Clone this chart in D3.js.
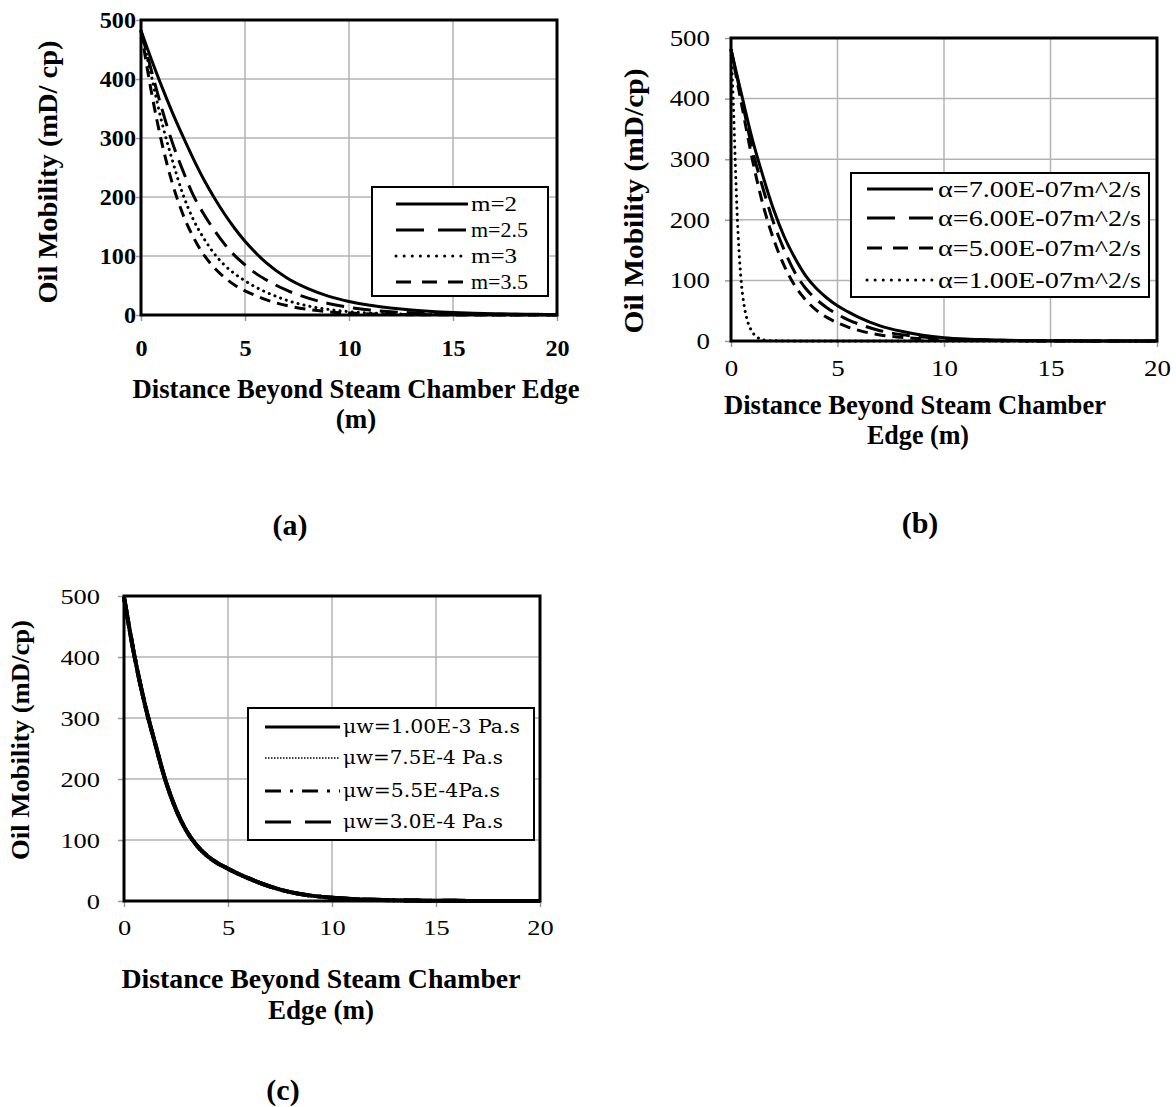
<!DOCTYPE html>
<html><head><meta charset="utf-8">
<script src="https://cdn.jsdelivr.net/npm/d3@7"></script>
<style>body{margin:0;background:#fff} svg{display:block}</style>
</head><body>
<svg id="chart" width="1176" height="1107"></svg>
<script>
// ---------- data ----------
const distance = [0,0.5,1,1.5,2,2.5,3,3.5,4,4.5,5,5.5,6,7,8,9,10,11,12,13,14,15,16,17,18,19,20];
const distanceFine = [0,0.1,0.2,0.3,0.4,0.5,0.6,0.7,0.8,1,1.2,1.4,1.7,2,3,5,10,20];

// panel (a): exponent m
const mobM2  = [482,433,387,344,304,266,231,200,172,147,125,106,89, 63,45,32,23,16.5,12,8.5,6,4.3,3,2.2,1.6,1.1,0.8];
const mobM25 = [482,414,350,293,246,204,172,145,121,101,85,71,60, 42,29,19.5,13,8.5,5.6,3.7,2.5,1.7,1.1,0.7,0.5,0.35,0.25];
const mobM3  = [482,405,327,263,206,163,131,105,85,70,58,47.5,39, 25,15.5,9.5,5.7,3.4,2,1.2,0.7,0.4,0.25,0.15,0.1,0.05,0];
const mobM35 = [482,378,292,224,172,133,103,81,64,51,41,33,26, 16,9.5,5.5,3.2,1.9,1.1,0.6,0.35,0.2,0.1,0.05,0,0,0];
const labelsA = ["m=2","m=2.5","m=3","m=3.5"];

// panel (b): thermal diffusivity alpha
const mobA7 = [481,406,333,272,217,172,137,108,87,71,58,48,39, 25,16,9.5,5.5,3.3,2,1.2,0.7,0.4,0.25,0.15,0.1,0.05,0];
const mobA6 = [481,400,316,252,195,150,113,87,69,55,44,35,28, 17,10.5,6.5,4,2.4,1.5,0.9,0.5,0.3,0.2,0.1,0.1,0,0];
const mobA5 = [481,390,300,225,168,124,91,68,51,39,30,23,17.5, 10,6,3.5,2,1.2,0.7,0.4,0.2,0.1,0,0,0,0,0];
const mobA1 = [481,400,295,200,135,90,62,43,30,15,7,3,1,0.4,0,0,0,0];
const labelsB = ["α=7.00E-07m^2/s","α=6.00E-07m^2/s","α=5.00E-07m^2/s","α=1.00E-07m^2/s"];

// panel (c): water viscosity (the four curves coincide)
const mobMu100 = [498,402,323,258,197,150,115,91,74,62,53,44.5,37, 24,14.5,8.8,5.3,3.2,1.9,1.1,0.7,0.4,0.25,0.15,0.1,0.05,0];
const mobMu75  = [498,402,323,258,197,150,115,91,74,62,53,44.5,37, 24,14.5,8.8,5.3,3.2,1.9,1.1,0.7,0.4,0.25,0.15,0.1,0.05,0];
const mobMu55  = [498,402,323,258,197,150,115,91,74,62,53,44.5,37, 24,14.5,8.8,5.3,3.2,1.9,1.1,0.7,0.4,0.25,0.15,0.1,0.05,0];
const mobMu30  = [498,402,323,258,197,150,115,91,74,62,53,44.5,37, 24,14.5,8.8,5.3,3.2,1.9,1.1,0.7,0.4,0.25,0.15,0.1,0.05,0];
const labelsC = ["μw=1.00E-3 Pa.s","μw=7.5E-4 Pa.s","μw=5.5E-4Pa.s","μw=3.0E-4 Pa.s"];

const xTicks = [0,5,10,15,20];
const yTicks = [0,100,200,300,400,500];
const xTitleLine1 = "Distance Beyond Steam Chamber";
const captions = ["(a)","(b)","(c)"];

// ---------- drawing ----------
const svg = d3.select('#chart');
svg.append('rect').attr('width',1176).attr('height',1107).attr('fill','#fff');
const SERIF = "'Liberation Serif','Times New Roman',serif";

const styles = {
  solid:   {dash:null, w:3},
  long:    {dash:"18,9", w:3, legDash:"28,14"},
  medium:  {dash:"11,7", w:3, legDash:"15,11"},
  dot:     {dash:"0.1,6", w:3, cap:"round", legDash:"0.1,8"},
  thinDot: {dash:"1.5,1.5", w:1.5},
  dashDot: {dash:"16,9,3,9", w:3, legDash:"16,9,3,9"},
  long2:   {dash:"26,14", w:3, legDash:"26,14"}
};

function txt(g, t, o) {
  const e = g.append('text').text(t)
    .attr('x', o.x).attr('y', o.y)
    .attr('font-family', o.family || SERIF)
    .attr('font-size', o.size)
    .attr('font-weight', o.weight || 'normal')
    .attr('text-anchor', o.anchor || 'start')
    .attr('fill', '#000');
  if (o.len) e.attr('textLength', o.len).attr('lengthAdjust', 'spacingAndGlyphs');
  if (o.rotate) e.attr('transform', `rotate(-90,${o.x},${o.y})`);
  return e;
}

function panel(c) {
  const g = svg.append('g');
  const x = d3.scaleLinear().domain([0,20]).range([c.left, c.right]);
  const y = d3.scaleLinear().domain([0,500]).range([c.bottom, c.top]);

  // gridlines
  g.append('g').selectAll('line').data(xTicks.slice(1,-1)).join('line')
    .attr('x1', d=>x(d)).attr('x2', d=>x(d)).attr('y1', c.top).attr('y2', c.bottom)
    .attr('stroke', '#b3b3b3').attr('stroke-width', 1.5);
  g.append('g').selectAll('line').data(yTicks.slice(1,-1)).join('line')
    .attr('y1', d=>y(d)).attr('y2', d=>y(d)).attr('x1', c.left).attr('x2', c.right)
    .attr('stroke', '#b3b3b3').attr('stroke-width', 1.5);

  // axes
  const ax = g.append('g').attr('transform', `translate(0,${c.bottom})`)
    .call(d3.axisBottom(x).tickValues(xTicks).tickSize(6).tickPadding(c.xPad));
  const ay = g.append('g').attr('transform', `translate(${c.left},0)`)
    .call(d3.axisLeft(y).tickValues(yTicks).tickSize(c.yTick || 6).tickPadding(c.yPad));
  [ax, ay].forEach(a => {
    a.select('.domain').remove();
    a.selectAll('line').attr('stroke', '#999').attr('stroke-width', 1.5);
    a.selectAll('text').attr('font-family', SERIF).attr('font-size', c.tickSize)
      .attr('font-weight', c.tickWeight).attr('fill', '#000')
      .each(function() {
        const w = this.getComputedTextLength();
        d3.select(this).attr('textLength', w * c.tickSx).attr('lengthAdjust', 'spacingAndGlyphs');
      });
  });

  // series
  const line = d3.line().x(d=>x(d[0])).y(d=>y(d[1])).curve(d3.curveMonotoneX);
  c.series.slice().reverse().forEach(s => {
    const st = styles[s.style];
    g.append('path').datum(s.x.map((v,i)=>[v, s.y[i]]))
      .attr('d', line).attr('fill', 'none').attr('stroke', '#000')
      .attr('stroke-width', c.lineW || st.w)
      .attr('stroke-dasharray', st.dash)
      .attr('stroke-linecap', st.cap || 'butt')
      .attr('stroke-linejoin', 'round');
  });

  // plot border
  g.append('rect').attr('x', c.left).attr('y', c.top)
    .attr('width', c.right - c.left).attr('height', c.bottom - c.top)
    .attr('fill', 'none').attr('stroke', '#000').attr('stroke-width', 3);

  // legend
  const L = c.legend;
  g.append('rect').attr('x', L.x).attr('y', L.y).attr('width', L.w).attr('height', L.h)
    .attr('fill', '#fff').attr('stroke', '#000').attr('stroke-width', 2);
  c.series.forEach((s, i) => {
    const st = styles[s.style];
    const yy = L.rows[i];
    g.append('line').attr('x1', L.s1).attr('x2', L.s2).attr('y1', yy).attr('y2', yy)
      .attr('stroke', '#000').attr('stroke-width', st.w)
      .attr('stroke-dasharray', st.legDash || st.dash)
      .attr('stroke-linecap', st.cap || 'butt');
    txt(g, s.label, {x: L.tx, y: yy + L.size*0.33, size: L.size, family: L.family, len: L.lens[i]});
  });

  // titles
  txt(g, c.yTitle.text, {x: c.yTitle.x, y: c.yTitle.cy, size: c.yTitle.size, weight: 'bold',
      anchor: 'middle', rotate: true, len: c.yTitle.len});
  c.xTitle.forEach(t => txt(g, t.text, {x: t.cx, y: t.y, size: t.size, weight: 'bold', anchor: 'middle', len: t.len}));
  txt(g, c.caption.text, {x: c.caption.x, y: c.caption.y, size: 30, weight: 'bold', anchor: 'middle'});
}

panel({
  left: 141, right: 557, top: 20, bottom: 315,
  tickSize: 23, tickWeight: 'bold', tickSx: 1.05, xPad: 19, yPad: 0, yTick: 5,
  series: [
    {x: distance, y: mobM2,  label: labelsA[0], style: 'solid'},
    {x: distance, y: mobM25, label: labelsA[1], style: 'long'},
    {x: distance, y: mobM3,  label: labelsA[2], style: 'dot'},
    {x: distance, y: mobM35, label: labelsA[3], style: 'medium'}
  ],
  legend: {x: 372, y: 187, w: 176, h: 109, rows: [204,230,256,282], s1: 396, s2: 468, tx: 471,
           size: 21, lens: [46,57,46,57]},
  yTitle: {text: "Oil Mobility  (mD/ cp)", x: 57, cy: 172, size: 28, len: 263},
  xTitle: [{text: xTitleLine1 + " Edge", cx: 356, y: 398, size: 27, len: 447},
           {text: "(m)", cx: 356, y: 428, size: 27}],
  caption: {text: captions[0], x: 290, y: 535}
});

panel({
  left: 731, right: 1157, top: 38, bottom: 341,
  tickSize: 23, tickWeight: 'normal', tickSx: 1.17, xPad: 13, yPad: 15,
  series: [
    {x: distance, y: mobA7, label: labelsB[0], style: 'solid'},
    {x: distance, y: mobA6, label: labelsB[1], style: 'long'},
    {x: distance, y: mobA5, label: labelsB[2], style: 'medium'},
    {x: distanceFine, y: mobA1, label: labelsB[3], style: 'dot'}
  ],
  legend: {x: 851, y: 173, w: 298, h: 124, rows: [189,218,248,280], s1: 867, s2: 933, tx: 938,
           size: 23, lens: [203,203,203,203]},
  yTitle: {text: "Oil Mobility  (mD/cp)", x: 643, cy: 201, size: 27, len: 265},
  xTitle: [{text: xTitleLine1, cx: 915, y: 414, size: 27, len: 382},
           {text: "Edge (m)", cx: 918, y: 444, size: 27, len: 102}],
  caption: {text: captions[1], x: 920, y: 533}
});

panel({
  left: 124, right: 540, top: 596, bottom: 901,
  tickSize: 22, tickWeight: 'normal', tickSx: 1.2, xPad: 12, yPad: 18, lineW: 4,
  series: [
    {x: distance, y: mobMu100, label: labelsC[0], style: 'solid'},
    {x: distance, y: mobMu75,  label: labelsC[1], style: 'thinDot'},
    {x: distance, y: mobMu55,  label: labelsC[2], style: 'dashDot'},
    {x: distance, y: mobMu30,  label: labelsC[3], style: 'long2'}
  ],
  legend: {x: 248, y: 708, w: 286, h: 132, rows: [727,758,791,822], s1: 265, s2: 340, tx: 343,
           size: 18, family: "'DejaVu Serif',serif", lens: [177,160,157,160]},
  yTitle: {text: "Oil Mobility  (mD/cp)", x: 29, cy: 740, size: 26, len: 240},
  xTitle: [{text: xTitleLine1, cx: 321, y: 988, size: 27, len: 399},
           {text: "Edge (m)", cx: 321, y: 1019, size: 27, len: 106}],
  caption: {text: captions[2], x: 283, y: 1100}
});
</script>
</body></html>
